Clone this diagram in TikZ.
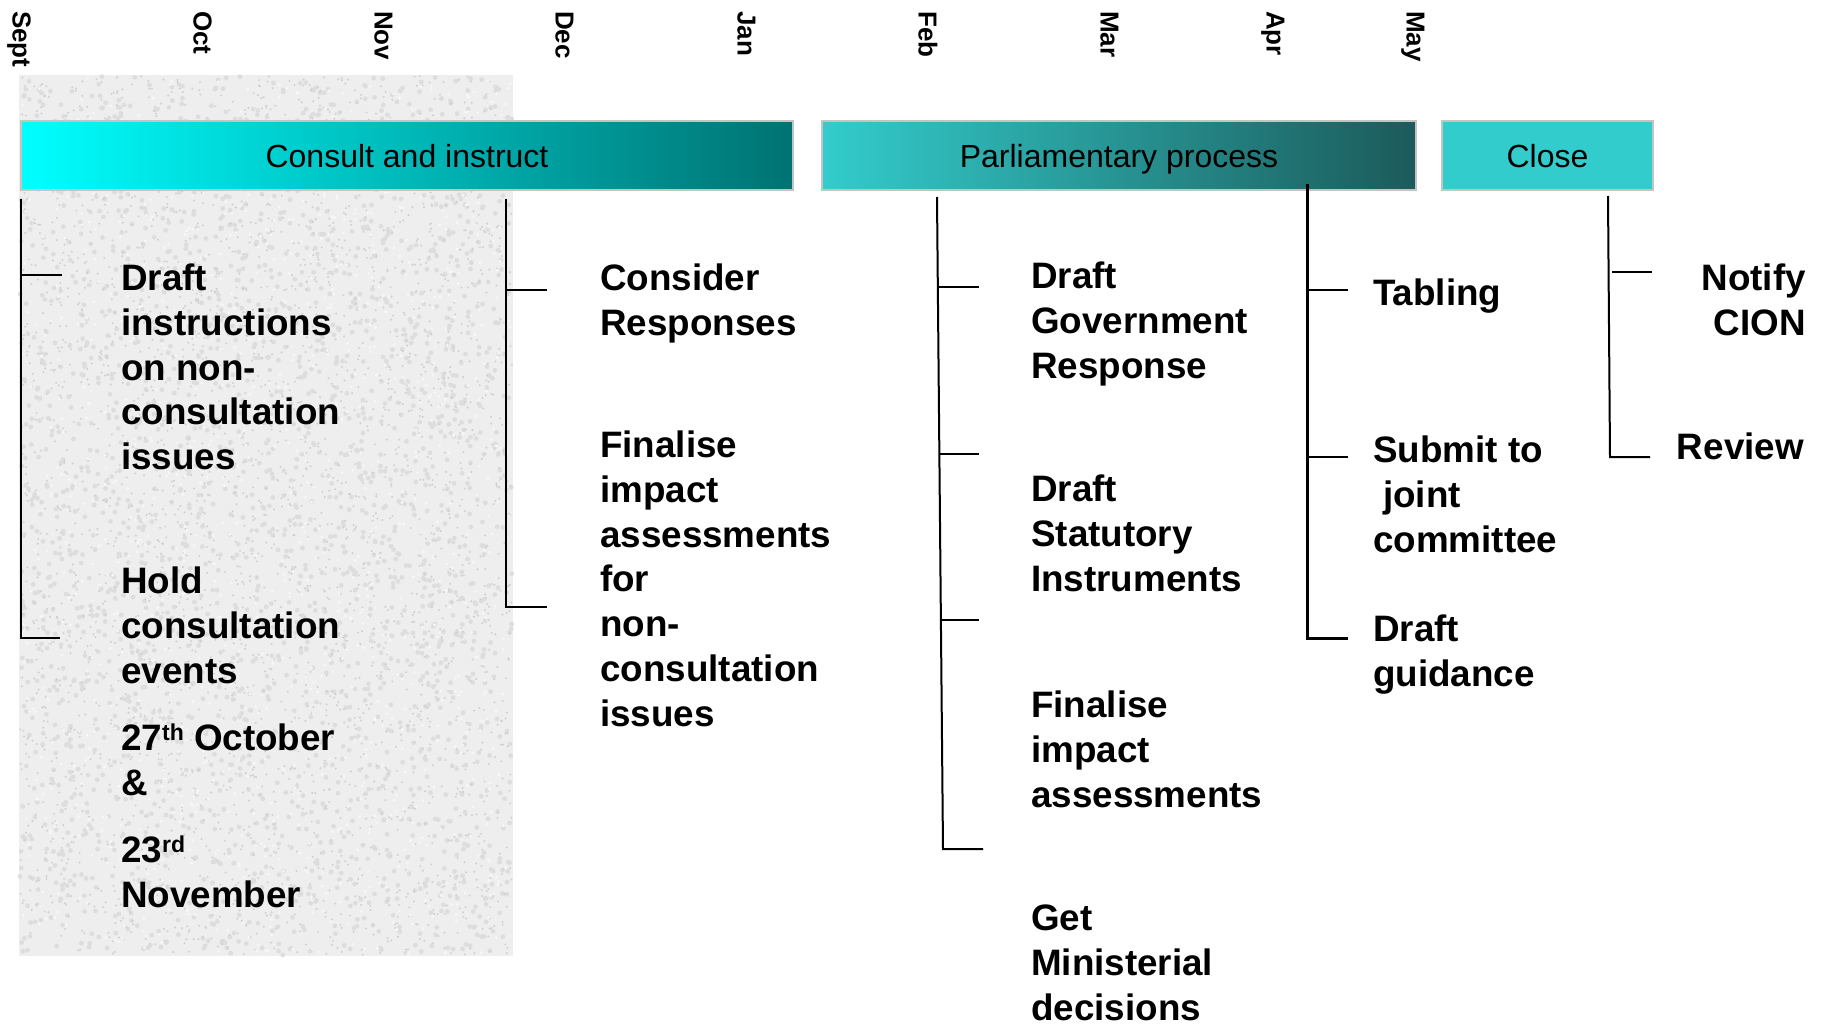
\documentclass[tikz,border=0pt]{standalone}
\usepackage{fontspec}
\setmainfont{Liberation Sans}
\definecolor{barborder}{HTML}{C4C4C4}
\definecolor{cyanL}{HTML}{00FFFF}
\definecolor{tealR}{HTML}{007272}
\definecolor{parlL}{HTML}{33CCCC}
\definecolor{parlR}{HTML}{1C5A5A}
\definecolor{closeC}{HTML}{33CCCC}
\definecolor{texbase}{HTML}{EEEEEE}
\definecolor{texdark}{HTML}{CFCFCF}
\definecolor{texmid}{HTML}{DDDDDD}
\newcommand\lnstrut{\rule{0pt}{30pt}}
\newcommand\supx[1]{\raisebox{10pt}{\fontsize{23}{23}\selectfont #1}}
\begin{document}
\begin{tikzpicture}[x=1pt,y=-1pt,
  lbl/.style={inner sep=0pt, anchor=north west, align=left, font=\fontsize{36.8}{44.9}\selectfont\bfseries},
  lblr/.style={lbl, anchor=north east, align=right},
  month/.style={inner sep=0pt, rotate=-90, anchor=west, font=\fontsize{26}{30}\selectfont\bfseries, text height=18.6pt, text depth=0pt},
  bar/.style={draw=barborder, line width=2.5pt, minimum height=69pt, inner sep=0pt, font=\fontsize{32}{38}\selectfont, text height=23pt, text depth=0pt},
  brk/.style={line width=2pt, black},
  brkthick/.style={line width=3pt, black},
]
\useasboundingbox[fill=white] (0,0) rectangle (1824,1025);

% textured background
\fill[texbase] (19,75) rectangle (513,956);
\pgfmathsetseed{11}
\foreach \i in {1,...,2500}{
  \fill[texmid] ({20+492*rnd},{76+879*rnd}) circle[radius=2.4pt];
}
\foreach \i in {1,...,3000}{
  \fill[texdark] ({20+492*rnd},{76+879*rnd}) circle[radius=1.1pt];
}
\foreach \i in {1,...,1200}{
  \fill[white!97!black] ({21+490*rnd},{77+877*rnd}) circle[radius=1.6pt];
}

% months
\node[month] (sep) at (22,11) {Sept};
\node[month] (oct) at (203,11) {Oct};
\node[month] (nov) at (384,11) {Nov};
\node[month] (dec) at (565,11) {Dec};
\node[month] (jan) at (747,11) {Jan};
\node[month] (feb) at (928,11) {Feb};
\node[month] (mar) at (1110,11) {Mar};
\node[month] (apr) at (1276,11) {Apr};
\node[month] (may) at (1416,11) {May};

% bars
\node[bar, minimum width=772pt, left color=cyanL, right color=tealR] (consult) at (407,155.5) {Consult and instruct};
\node[bar, minimum width=594pt, left color=parlL, right color=parlR] (parl) at (1119,155.5) {Parliamentary process};
\node[bar, minimum width=211pt, fill=closeC] (close) at (1547.5,155.5) {Close};

% bracket coordinates
\coordinate (a0) at (21,199);   \coordinate (a1) at (21,275);  \coordinate (a1e) at (62,275);
\coordinate (a2) at (21,638);   \coordinate (a2e) at (60,638);
\coordinate (b0) at (506,199);  \coordinate (b1) at (506,290); \coordinate (b1e) at (547,290);
\coordinate (b2) at (506,607);  \coordinate (b2e) at (547,607);
\coordinate (p0) at (937,197);
\coordinate (p1) at (938.5,287); \coordinate (p1e) at (979,287);
\coordinate (p2) at (940,454);   \coordinate (p2e) at (979,454);
\coordinate (p3) at (941.5,620); \coordinate (p3e) at (979,620);
\coordinate (p4) at (943,849);   \coordinate (p4e) at (983,849);
\coordinate (q0) at (1307,184);
\coordinate (q1) at (1307,290); \coordinate (q1e) at (1348,290);
\coordinate (q2) at (1307,457); \coordinate (q2e) at (1348,457);
\coordinate (q3) at (1307,638); \coordinate (q3e) at (1348,638);
\coordinate (r0) at (1608,196);
\coordinate (r1s) at (1612,272); \coordinate (r1e) at (1652,272);
\coordinate (r2) at (1610,457); \coordinate (r2e) at (1650,457);

\draw[brk] (a0) -- (a2) -- (a2e);
\draw[brk] (a1) -- (a1e);
\draw[brk] (b0) -- (b2) -- (b2e);
\draw[brk] (b1) -- (b1e);
\draw[brk] (p0) -- (p4) -- (p4e);
\draw[brk] (p1) -- (p1e);
\draw[brk] (p2) -- (p2e);
\draw[brk] (p3) -- (p3e);
\draw[brkthick] (q0) -- (q3) -- (q3e);
\draw[brk] (q1) -- (q1e);
\draw[brk] (q2) -- (q2e);
\draw[brk] (r0) -- (r2) -- (r2e);
\draw[brk] (r1s) -- (r1e);

% labels
\node[lbl] (draftinst) at (121,260) {\lnstrut Draft\\instructions\\on non-\\consultation\\issues};
\node[lbl] (hold) at (121,563) {\lnstrut Hold\\consultation\\events};
\node[lbl] (oct27) at (121,720) {\lnstrut 27\supx{th} October\\\&};
\node[lbl] (nov23) at (121,832) {\lnstrut 23\supx{rd}\\November};
\node[lbl] (consider) at (600,260) {\lnstrut Consider\\Responses};
\node[lbl] (finalnc) at (600,427) {\lnstrut Finalise\\impact\\assessments\\for\\non-\\consultation\\issues};
\node[lbl] (govresp) at (1031,258) {\lnstrut Draft\\Government\\Response};
\node[lbl] (statinst) at (1031,471) {\lnstrut Draft\\Statutory\\Instruments};
\node[lbl] (finalia) at (1031,687) {\lnstrut Finalise\\impact\\assessments};
\node[lbl] (minist) at (1031,900) {\lnstrut Get\\Ministerial\\decisions};
\node[lbl] (tabling) at (1373,275) {\lnstrut Tabling};
\node[lbl] (submit) at (1373,432) {\lnstrut Submit to\\\hspace*{10pt}joint\\committee};
\node[lbl] (guidance) at (1373,611) {\lnstrut Draft\\guidance};
\node[lblr] (notify) at (1806,260) {\lnstrut Notify\\CION};
\node[lblr] (review) at (1804,429) {\lnstrut Review};
\end{tikzpicture}
\end{document}
